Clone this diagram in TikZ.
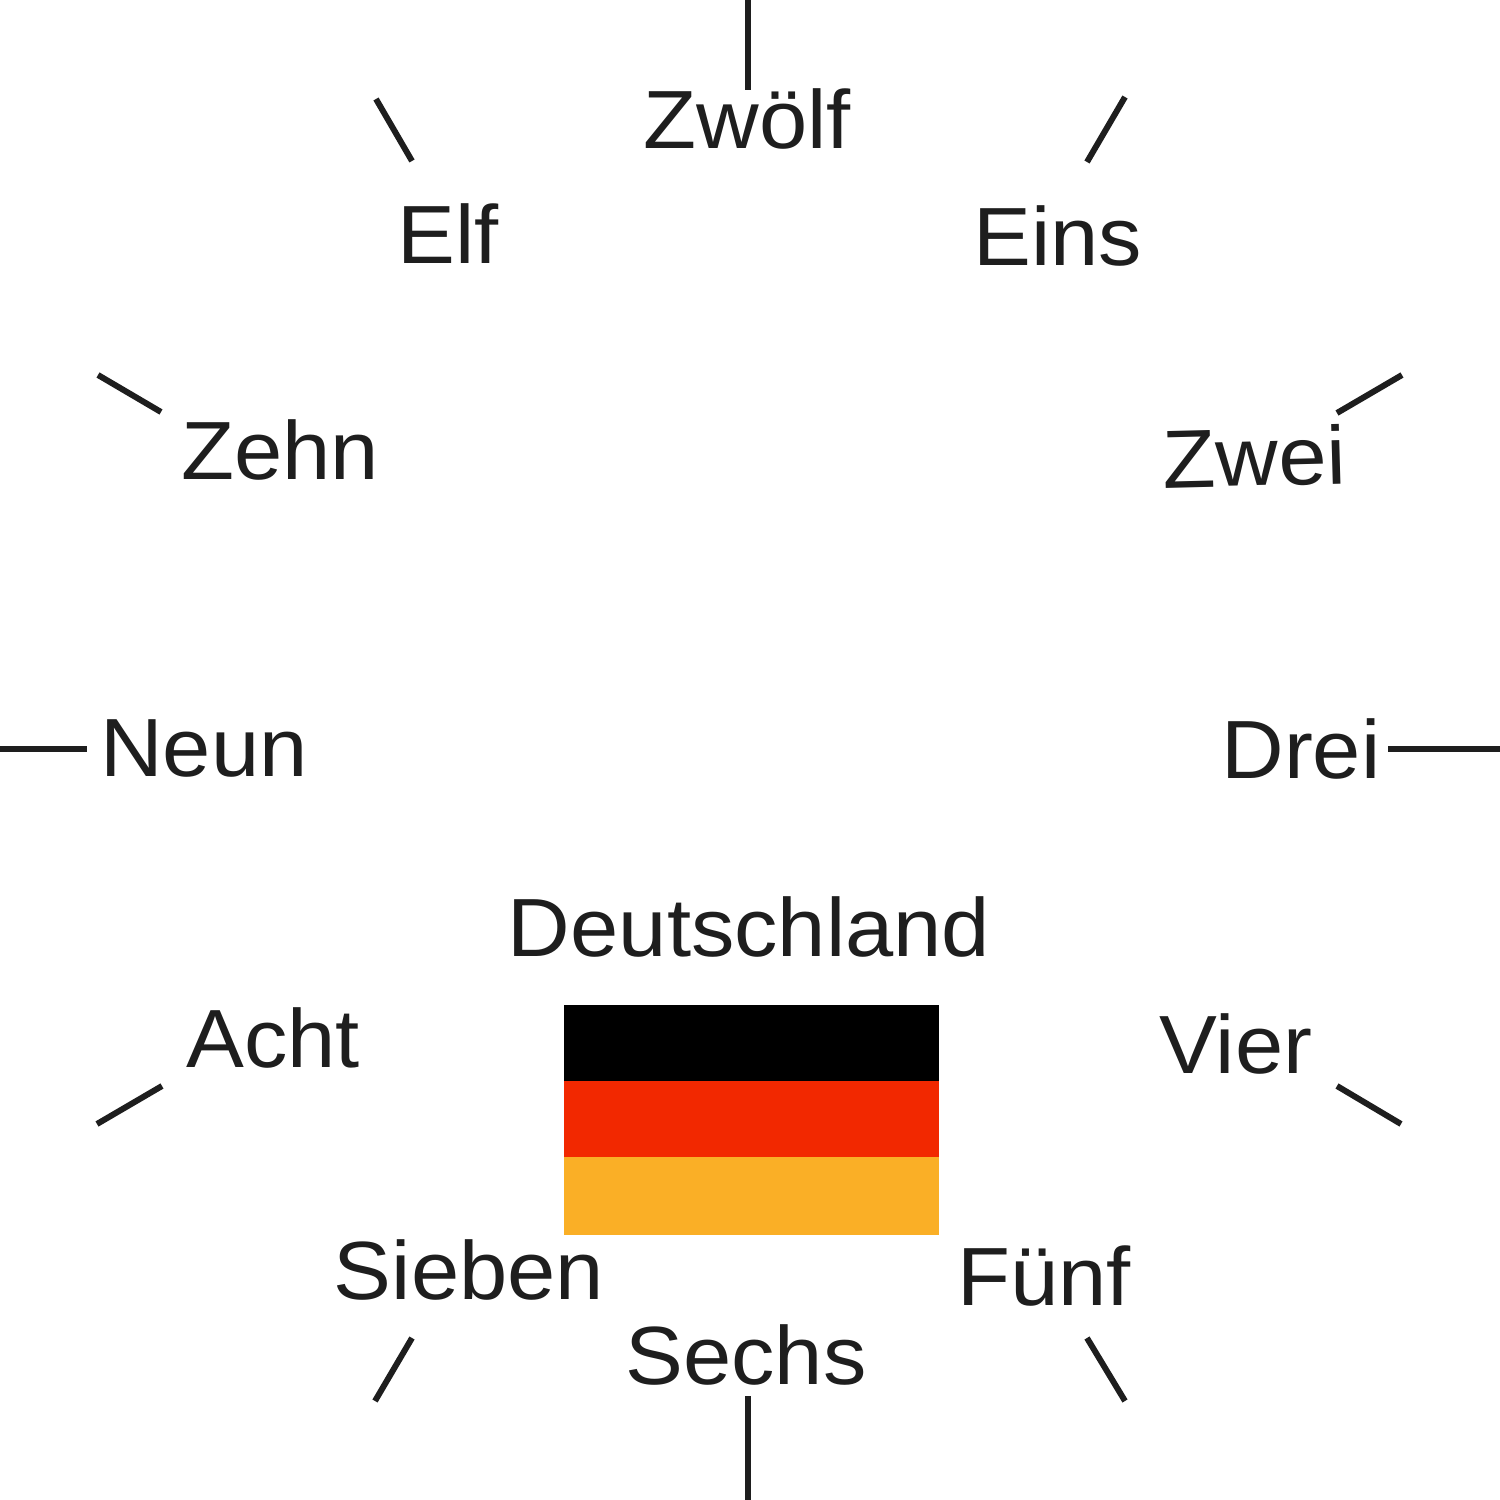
\documentclass[tikz,border=0pt]{standalone}
\usepackage{fontspec}
\setmainfont{Liberation Sans}
\definecolor{meupreto}{HTML}{000000}
\definecolor{meuvermelho}{HTML}{F22800}
\definecolor{meuamarelo}{HTML}{FAAF26}
\definecolor{meutraco}{HTML}{1E1E1E}
\tikzset{
  rotulo/.style={anchor=base,inner sep=0pt,text=meutraco,font=\fontsize{23.5}{28}\selectfont,xscale=1.05},
  traco/.style={draw=meutraco,line width=1.7pt}
}
\begin{document}
\begin{tikzpicture}
\useasboundingbox (0,0) rectangle (15,15);
\fill [meupreto] (5.64,4.19) rectangle ++(3.75,0.76);
\fill [meuvermelho] (5.64,3.43) rectangle ++(3.75,0.76);
\fill [meuamarelo] (5.64,2.65) rectangle ++(3.75,0.78);
\draw [traco] (7.48,15) -- (7.48,14.10);
\draw [traco] (3.76,14.01) -- (4.12,13.39);
\draw [traco] (11.25,14.03) -- (10.87,13.38);
\draw [traco] (0.98,11.25) -- (1.61,10.88);
\draw [traco] (14.02,11.25) -- (13.37,10.87);
\draw [traco] (0,7.51) -- (0.87,7.51);
\draw [traco] (13.88,7.51) -- (15,7.51);
\draw [traco] (0.97,3.76) -- (1.62,4.14);
\draw [traco] (13.37,4.14) -- (14.01,3.76);
\draw [traco] (3.75,0.99) -- (4.12,1.62);
\draw [traco] (10.87,1.62) -- (11.25,0.99);
\draw [traco] (7.48,1.04) -- (7.48,0);
\node [rotulo] (zwoelf) at (7.47,13.51) {Zwölf};
\node [rotulo] (elf) at (4.48,12.36) {Elf};
\node [rotulo] (eins) at (10.58,12.34) {Eins};
\node [rotulo] (zehn) at (2.80,10.20) {Zehn};
\node [rotulo,rotate=1.5] (zwei) at (12.55,10.14) {Zwei};
\node [rotulo] (neun) at (2.04,7.23) {Neun};
\node [rotulo] (drei) at (13.01,7.21) {Drei};
\node [rotulo] (deutschland) at (7.49,5.43) {Deutschland};
\node [rotulo] (acht) at (2.73,4.32) {Acht};
\node [rotulo] (vier) at (12.36,4.26) {Vier};
\node [rotulo] (sieben) at (4.69,2.00) {Sieben};
\node [rotulo] (fuenf) at (10.44,1.95) {Fünf};
\node [rotulo] (sechs) at (7.46,1.15) {Sechs};
\end{tikzpicture}
\end{document}
